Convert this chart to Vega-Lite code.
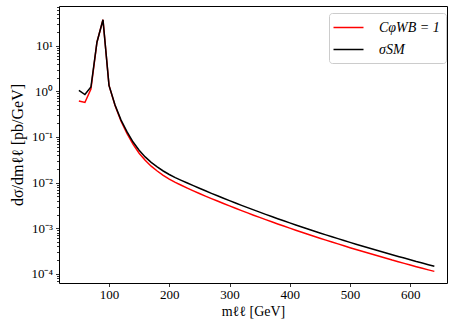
{
  "$schema": "https://vega.github.io/schema/vega-lite/v6.json",
  "width": 388,
  "height": 277,
  "autosize": {"type": "none"},
  "padding": {"left": 59, "top": 6, "right": 11, "bottom": 40},
  "background": "white",
  "config": {
    "view": {"stroke": "#000000", "strokeWidth": 1},
    "font": "Liberation Serif",
    "axis": {
      "grid": false,
      "domain": false,
      "tickColor": "#000000",
      "labelColor": "#000000",
      "titleColor": "#000000",
      "labelFont": "Liberation Serif",
      "titleFont": "Liberation Serif",
      "labelFontSize": 13,
      "titleFontSize": 14,
      "titleFontWeight": "normal",
      "tickWidth": 0.8
    }
  },
  "data": {
    "values": [
      {"m": 50, "c": 0.615, "s": 1.05},
      {"m": 60, "c": 0.57, "s": 0.85},
      {"m": 70, "c": 1.12, "s": 1.24},
      {"m": 80, "c": 11.9, "s": 11.9},
      {"m": 90, "c": 37, "s": 37},
      {"m": 100, "c": 1.35, "s": 1.35},
      {"m": 110, "c": 0.489, "s": 0.5},
      {"m": 120, "c": 0.221, "s": 0.234},
      {"m": 130, "c": 0.1176, "s": 0.129},
      {"m": 140, "c": 0.0687, "s": 0.0776},
      {"m": 150, "c": 0.0442, "s": 0.0513},
      {"m": 160, "c": 0.0308, "s": 0.0366},
      {"m": 170, "c": 0.02296, "s": 0.0278},
      {"m": 180, "c": 0.01797, "s": 0.0221},
      {"m": 190, "c": 0.01444, "s": 0.018},
      {"m": 200, "c": 0.01194, "s": 0.01507},
      {"m": 210, "c": 0.0101, "s": 0.01287},
      {"m": 220, "c": 0.00876, "s": 0.01123},
      {"m": 230, "c": 0.00759, "s": 0.009811},
      {"m": 240, "c": 0.00662, "s": 0.00859},
      {"m": 250, "c": 0.0058, "s": 0.007538},
      {"m": 260, "c": 0.005083, "s": 0.006627},
      {"m": 270, "c": 0.004478, "s": 0.005838},
      {"m": 280, "c": 0.003952, "s": 0.005152},
      {"m": 290, "c": 0.003494, "s": 0.004556},
      {"m": 300, "c": 0.003096, "s": 0.004036},
      {"m": 310, "c": 0.002747, "s": 0.003581},
      {"m": 320, "c": 0.002442, "s": 0.003184},
      {"m": 330, "c": 0.002175, "s": 0.002836},
      {"m": 340, "c": 0.00194, "s": 0.002529},
      {"m": 350, "c": 0.001733, "s": 0.002259},
      {"m": 360, "c": 0.00155, "s": 0.002021},
      {"m": 370, "c": 0.001389, "s": 0.001811},
      {"m": 380, "c": 0.001247, "s": 0.001626},
      {"m": 390, "c": 0.001121, "s": 0.001462},
      {"m": 400, "c": 0.001009, "s": 0.001315},
      {"m": 410, "c": 0.00091, "s": 0.001186},
      {"m": 420, "c": 0.000821, "s": 0.00107},
      {"m": 430, "c": 0.000742, "s": 0.000967},
      {"m": 440, "c": 0.000671, "s": 0.000875},
      {"m": 450, "c": 0.000608, "s": 0.000793},
      {"m": 460, "c": 0.000551, "s": 0.000719},
      {"m": 470, "c": 0.000501, "s": 0.000653},
      {"m": 480, "c": 0.000456, "s": 0.000594},
      {"m": 490, "c": 0.000414, "s": 0.00054},
      {"m": 500, "c": 0.000377, "s": 0.000492},
      {"m": 510, "c": 0.000344, "s": 0.000449},
      {"m": 520, "c": 0.000314, "s": 0.00041},
      {"m": 530, "c": 0.000288, "s": 0.000375},
      {"m": 540, "c": 0.000263, "s": 0.000343},
      {"m": 550, "c": 0.000241, "s": 0.000314},
      {"m": 560, "c": 0.000221, "s": 0.000288},
      {"m": 570, "c": 0.000202, "s": 0.000264},
      {"m": 580, "c": 0.000186, "s": 0.000242},
      {"m": 590, "c": 0.000171, "s": 0.000223},
      {"m": 600, "c": 0.000157, "s": 0.000205},
      {"m": 610, "c": 0.000144, "s": 0.000188},
      {"m": 620, "c": 0.000133, "s": 0.000174},
      {"m": 630, "c": 0.000123, "s": 0.00016},
      {"m": 640, "c": 0.000114, "s": 0.000148}
    ]
  },
  "encoding": {
    "x": {
      "field": "m",
      "type": "quantitative",
      "scale": {"domain": [17, 661], "nice": false, "zero": false},
      "axis": {
        "values": [100, 200, 300, 400, 500, 600],
        "title": "mℓℓ [GeV]",
        "tickSize": 3.5,
        "labelPadding": 2,
        "titlePadding": 3,
        "labelFlush": false
      }
    }
  },
  "layer": [
    {
      "mark": {"type": "line", "strokeWidth": 1.5},
      "encoding": {
        "y": {
          "field": "c",
          "type": "quantitative",
          "scale": {"type": "log", "domain": [0.0000635, 73.8], "nice": false},
          "axis": {
            "orient": "left",
            "values": [0.00007, 0.00008, 0.00009, 0.0001, 0.0002, 0.0003, 0.0004, 0.0005, 0.0006, 0.0007, 0.0008, 0.0009, 0.001, 0.002, 0.003, 0.004, 0.005, 0.006, 0.007, 0.008, 0.009, 0.01, 0.02, 0.03, 0.04, 0.05, 0.06, 0.07, 0.08, 0.09, 0.1, 0.2, 0.3, 0.4, 0.5, 0.6, 0.7, 0.8, 0.9, 1, 2, 3, 4, 5, 6, 7, 8, 9, 10, 20, 30, 40, 50, 60, 70],
            "labelExpr": "abs(log(datum.value) / LN10 - round(log(datum.value) / LN10)) < 0.000001 ? '10' + replace(replace(replace(replace(replace(replace('' + round(log(datum.value) / LN10), '-', '⁻'), '0', '⁰'), '1', '¹'), '2', '²'), '3', '³'), '4', '⁴') : ''",
            "tickSize": {"condition": {"test": "abs(log(datum.value) / LN10 - round(log(datum.value) / LN10)) < 0.000001", "value": 3.5}, "value": 2.5},
            "tickWidth": 0.8,
            "labelOverlap": false,
            "title": "dσ/dmℓℓ [pb/GeV]",
            "titleFontSize": 16,
            "labelPadding": 3,
            "titlePadding": 5
          }
        },
        "color": {
          "datum": "CφWB = 1",
          "type": "nominal",
          "scale": {"domain": ["CφWB = 1", "σSM"], "range": ["#ff0000", "#000000"]},
          "legend": {
            "title": null,
            "orient": "none",
            "legendX": 270,
            "legendY": 7,
            "symbolType": "M-2,0L2,0",
            "symbolSize": 225,
            "symbolOffset": 5,
            "symbolStrokeWidth": 1.5,
            "labelFont": "Liberation Serif",
            "labelFontStyle": "italic",
            "labelFontSize": 14,
            "labelColor": "#000000",
            "labelOffset": 22,
            "rowPadding": 6,
            "padding": 6,
            "strokeColor": "#cccccc",
            "fillColor": "#ffffff",
            "cornerRadius": 3
          }
        }
      }
    },
    {
      "mark": {"type": "line", "strokeWidth": 1.5},
      "encoding": {
        "y": {"field": "s", "type": "quantitative"},
        "color": {"datum": "σSM", "type": "nominal"}
      }
    }
  ]
}
